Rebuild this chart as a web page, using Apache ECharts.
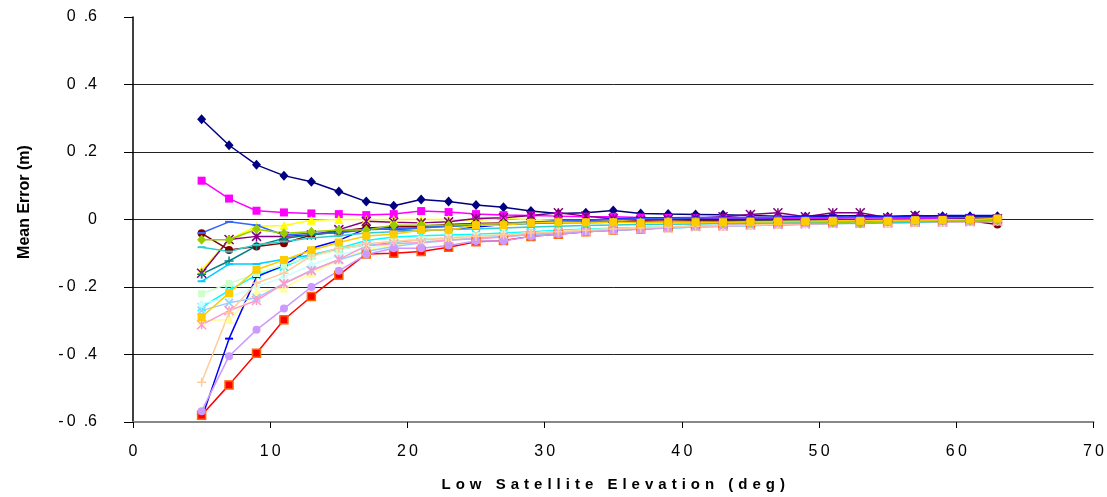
<!DOCTYPE html>
<html><head><meta charset="utf-8">
<script src="https://cdn.jsdelivr.net/npm/echarts@6/dist/echarts.min.js"></script>
<style>html,body{margin:0;padding:0;background:#fff}#c{width:1107px;height:497px}</style>
</head><body><div id="c"></div>
<script>
// x categories: low satellite elevation (deg)
const elevations = [5,7,9,11,13,15,17,19,21,23,25,27,29,31,33,35,37,39,41,43,45,47,49,51,53,55,57,59,61,63];
const xTicks = [0,10,20,30,40,50,60,70];
const xTickLabels = ['0','10','20','30','40','50','60','70'];
const yTicks = [-0.6,-0.4,-0.2,0,0.2,0.4,0.6];
const yTickLabels = ['-0.6','-0.4','-0.2','0','0.2','0.4','0.6'];
const xTitle = 'Low Satellite Elevation (deg)';
const yTitle = 'Mean Error (m)';

const sNavy    = [0.297,0.220,0.162,0.130,0.112,0.083,0.053,0.041,0.059,0.053,0.043,0.036,0.025,0.018,0.020,0.027,0.018,0.016,0.015,0.014,0.012,0.010,0.008,0.010,0.012,0.008,0.012,0.010,0.010,0.010];
const sMagenta = [0.115,0.062,0.026,0.021,0.018,0.016,0.013,0.016,0.025,0.022,0.016,0.013,0.012,0.010,0.008,0.008,0.006,0.005,0.004,0.004,0.003,0.003,0.003,0.004,0.005,0.004,0.003,0.003,0.003,0.003];
const sYellow  = [-0.150,-0.060,-0.020,-0.018,-0.002,0.000,0.000,0.000,0.000,0.000,-0.002,0.002,0.000,-0.002,-0.003,-0.004,-0.005,-0.005,-0.006,-0.006,-0.005,-0.005,-0.004,-0.003,-0.003,-0.002,-0.002,-0.001,0.000,0.000];
const sCyan    = [-0.260,-0.210,-0.165,-0.140,-0.105,-0.085,-0.062,-0.052,-0.048,-0.046,-0.044,-0.040,-0.036,-0.032,-0.028,-0.026,-0.024,-0.022,-0.020,-0.018,-0.017,-0.015,-0.013,-0.012,-0.011,-0.010,-0.008,-0.006,-0.005,-0.004];
const sPurple  = [-0.159,-0.059,-0.050,-0.050,-0.046,-0.030,-0.005,-0.008,-0.010,-0.007,0.003,0.005,0.012,0.020,0.010,0.002,-0.002,0.000,0.004,0.008,0.015,0.020,0.008,0.020,0.020,0.005,0.012,0.005,0.003,0.002];
const sMaroon  = [-0.041,-0.090,-0.080,-0.070,-0.046,-0.035,-0.025,-0.022,-0.020,-0.015,-0.012,-0.010,-0.008,-0.006,-0.005,-0.006,-0.006,-0.005,-0.004,-0.004,-0.003,-0.003,-0.002,-0.002,-0.003,-0.004,-0.002,-0.003,-0.004,-0.015];
const sTeal    = [-0.162,-0.123,-0.078,-0.056,-0.045,-0.038,-0.030,-0.028,-0.024,-0.020,-0.017,-0.015,-0.012,-0.010,-0.009,-0.008,-0.008,-0.007,-0.006,-0.006,-0.005,-0.005,-0.004,-0.004,-0.004,-0.003,-0.003,-0.002,-0.002,-0.002];
const sBlue    = [-0.590,-0.353,-0.170,-0.136,-0.085,-0.062,-0.027,-0.030,-0.033,-0.030,-0.022,-0.015,-0.010,-0.006,-0.002,0.002,0.004,0.005,0.006,0.006,0.006,0.005,0.010,0.012,0.010,0.010,0.010,0.012,0.012,0.012];
const sSky     = [-0.183,-0.132,-0.132,-0.118,-0.105,-0.088,-0.075,-0.068,-0.062,-0.058,-0.054,-0.050,-0.045,-0.040,-0.036,-0.032,-0.028,-0.025,-0.022,-0.020,-0.018,-0.016,-0.014,-0.012,-0.010,-0.009,-0.008,-0.006,-0.005,-0.004];
const sPaleCyan= [-0.250,-0.230,-0.200,-0.170,-0.135,-0.105,-0.085,-0.072,-0.064,-0.058,-0.052,-0.047,-0.042,-0.038,-0.034,-0.030,-0.027,-0.024,-0.021,-0.019,-0.017,-0.015,-0.013,-0.012,-0.011,-0.010,-0.008,-0.007,-0.006,-0.005];
const sPaleGreen=[-0.220,-0.190,-0.160,-0.135,-0.110,-0.090,-0.074,-0.064,-0.058,-0.053,-0.048,-0.044,-0.040,-0.036,-0.032,-0.029,-0.026,-0.023,-0.020,-0.018,-0.016,-0.014,-0.012,-0.011,-0.010,-0.009,-0.008,-0.007,-0.006,-0.005];
const sPaleYellow=[-0.300,-0.296,-0.215,-0.203,-0.160,-0.120,-0.090,-0.075,-0.068,-0.060,-0.052,-0.046,-0.040,-0.035,-0.030,-0.028,-0.025,-0.022,-0.020,-0.018,-0.016,-0.014,-0.012,-0.011,-0.010,-0.009,-0.007,-0.006,-0.005,-0.004];
const sPaleBlue= [-0.270,-0.247,-0.232,-0.190,-0.150,-0.120,-0.095,-0.080,-0.070,-0.062,-0.055,-0.050,-0.045,-0.040,-0.036,-0.032,-0.028,-0.025,-0.022,-0.020,-0.018,-0.016,-0.014,-0.012,-0.011,-0.010,-0.008,-0.007,-0.006,-0.005];
const sRose    = [-0.312,-0.270,-0.240,-0.190,-0.152,-0.118,-0.078,-0.072,-0.068,-0.060,-0.058,-0.052,-0.042,-0.038,-0.034,-0.030,-0.027,-0.024,-0.021,-0.019,-0.017,-0.015,-0.013,-0.012,-0.011,-0.010,-0.009,-0.008,-0.007,-0.006];
const sRed     = [-0.580,-0.490,-0.396,-0.297,-0.228,-0.165,-0.102,-0.100,-0.095,-0.082,-0.066,-0.062,-0.050,-0.044,-0.036,-0.031,-0.028,-0.024,-0.020,-0.018,-0.015,-0.013,-0.011,-0.010,-0.010,-0.009,-0.007,-0.006,-0.005,-0.004];
const sLavender= [-0.568,-0.405,-0.327,-0.264,-0.200,-0.152,-0.104,-0.085,-0.085,-0.077,-0.064,-0.064,-0.050,-0.044,-0.036,-0.031,-0.029,-0.024,-0.020,-0.018,-0.014,-0.012,-0.010,-0.010,-0.010,-0.008,-0.006,-0.005,-0.004,-0.004];
const sTan     = [-0.482,-0.276,-0.188,-0.159,-0.108,-0.085,-0.072,-0.065,-0.060,-0.055,-0.050,-0.045,-0.040,-0.036,-0.032,-0.028,-0.025,-0.022,-0.020,-0.018,-0.016,-0.014,-0.012,-0.011,-0.010,-0.012,-0.008,-0.006,-0.005,-0.004];
const sRoyal   = [-0.040,-0.007,-0.017,-0.046,-0.041,-0.040,-0.030,-0.028,-0.025,-0.020,-0.015,-0.012,-0.008,-0.004,-0.002,0.000,0.002,0.004,0.005,0.005,0.005,0.006,0.006,0.006,0.006,0.006,0.006,0.006,0.006,0.006];
const sAqua    = [-0.082,-0.095,-0.075,-0.065,-0.055,-0.048,-0.040,-0.036,-0.032,-0.030,-0.028,-0.025,-0.022,-0.020,-0.018,-0.016,-0.015,-0.014,-0.013,-0.012,-0.011,-0.010,-0.010,-0.010,-0.012,-0.010,-0.008,-0.006,-0.005,-0.004];
const sLime    = [-0.060,-0.060,-0.029,-0.041,-0.036,-0.031,-0.031,-0.017,-0.017,-0.017,-0.014,-0.012,-0.010,-0.008,-0.010,-0.008,-0.008,-0.007,-0.008,-0.010,-0.008,-0.006,-0.006,-0.008,-0.012,-0.006,-0.004,-0.004,-0.003,-0.002];
const sGold    = [-0.289,-0.218,-0.149,-0.120,-0.091,-0.068,-0.049,-0.044,-0.031,-0.031,-0.017,-0.017,-0.010,-0.008,-0.008,-0.008,-0.010,-0.008,-0.008,-0.008,-0.007,-0.006,-0.005,-0.004,-0.004,-0.004,-0.002,-0.001,0.000,0.003];

const P_X = 'path://M0,0L10,10M10,0L0,10';
const P_STAR = 'path://M0,0L10,10M10,0L0,10M5,0L5,10';
const P_PLUS = 'path://M5,0L5,10M0,5L10,5';
const P_DASH = 'path://M0,0H10V2H0Z';

const seriesDefs = [
  {d:sNavy, c:'#000080', s:'diamond', z:[9,10]},
  {d:sMagenta, c:'#FF00FF', s:'rect', z:8},
  {d:sYellow, c:'#FFFF00', s:'triangle', z:9},
  {d:sCyan, c:'#00FFFF', s:P_X, z:8, st:true},
  {d:sPurple, c:'#800080', s:P_STAR, z:9, st:true},
  {d:sMaroon, c:'#800000', s:'circle', z:8},
  {d:sTeal, c:'#008080', s:P_PLUS, z:9, st:true},
  {d:sBlue, c:'#0000FF', s:P_DASH, z:[8,2]},
  {d:sSky, c:'#00CCFF', s:P_DASH, z:[8,2]},
  {d:sPaleCyan, c:'#CCFFFF', s:'diamond', z:[8,9]},
  {d:sPaleGreen, c:'#CCFFCC', s:'rect', z:7},
  {d:sRed, c:'#FF0000', s:'rect', z:8, bc:'#FF6600'},
  {d:sPaleYellow, c:'#FFFF99', s:'triangle', z:9},
  {d:sPaleBlue, c:'#99CCFF', s:P_X, z:8, st:true},
  {d:sRose, c:'#FF99CC', s:P_STAR, z:9, st:true},
  {d:sLavender, c:'#CC99FF', s:'circle', z:8},
  {d:sTan, c:'#FFCC99', s:P_PLUS, z:9, st:true},
  {d:sRoyal, c:'#3366FF', s:P_DASH, z:[8,2]},
  {d:sAqua, c:'#33CCCC', s:P_DASH, z:[8,2]},
  {d:sLime, c:'#99CC00', s:'diamond', z:[9,10]},
  {d:sGold, c:'#FFCC00', s:'rect', z:8}
];

function spaced(str, sep){ return str.split('').join(sep); }
function yFmt(v){
  const i = yTicks.findIndex(t => Math.abs(t - v) < 1e-9);
  const s = i >= 0 ? yTickLabels[i] : String(v);
  return s.replace('-', '-\u2009').replace('.', '\u2002.');
}
function xFmt(v){
  const i = xTicks.indexOf(v);
  return spaced(i >= 0 ? xTickLabels[i] : String(v), '\u2009');
}

const series = seriesDefs.map(def => ({
  type:'line',
  data: elevations.map((x,i) => [x, def.d[i]]),
  symbol: def.s,
  symbolSize: def.z,
  lineStyle:{color:def.c, width:1.5},
  itemStyle: def.st ? {color:def.c, borderColor:def.c, borderWidth:1.5}
                    : {color:def.c, borderColor: def.bc || def.c, borderWidth: def.bc ? 1.5 : 0},
  emphasis:{disabled:true},
  animation:false
}));

const chart = echarts.init(document.getElementById('c'), null, {renderer:'canvas'});
chart.setOption({
  backgroundColor:'#ffffff',
  animation:false,
  textStyle:{fontFamily:'Liberation Sans, Arial, sans-serif'},
  grid:{left:133, right:13, top:17, bottom:72, containLabel:false},
  xAxis:{
    type:'value', min:0, max:70, interval:10,
    axisLine:{show:true, onZero:false, lineStyle:{color:'#888888', width:2}},
    axisTick:{show:true, inside:false, length:6, lineStyle:{color:'#000', width:1}},
    axisLabel:{formatter:xFmt, color:'#000', fontSize:16, margin:22, fontFamily:'Liberation Sans, Arial, sans-serif'},
    splitLine:{show:false},
    name: spaced(xTitle, '\u2004'),
    nameLocation:'middle', nameGap:55,
    nameTextStyle:{fontSize:15, fontWeight:'bold', color:'#000', fontFamily:'Liberation Sans, Arial, sans-serif'}
  },
  yAxis:{
    type:'value', min:-0.6, max:0.6, interval:0.2,
    axisLine:{show:true, onZero:false, lineStyle:{color:'#000', width:1.5}},
    axisTick:{show:true, inside:false, length:9, lineStyle:{color:'#000', width:1}},
    axisLabel:{formatter:yFmt, color:'#000', fontSize:16, margin:36, fontFamily:'Liberation Sans, Arial, sans-serif'},
    splitLine:{show:true, showMinLine:false, showMaxLine:false, lineStyle:{color:'#222222', width:1}}
  },
  graphic:[{
    type:'text', x:25, y:202, rotation:Math.PI/2,
    style:{text:yTitle, font:'bold 16px "Liberation Sans", Arial, sans-serif', fill:'#000', align:'center', verticalAlign:'middle'}
  }],
  series: series
});
</script></body></html>
